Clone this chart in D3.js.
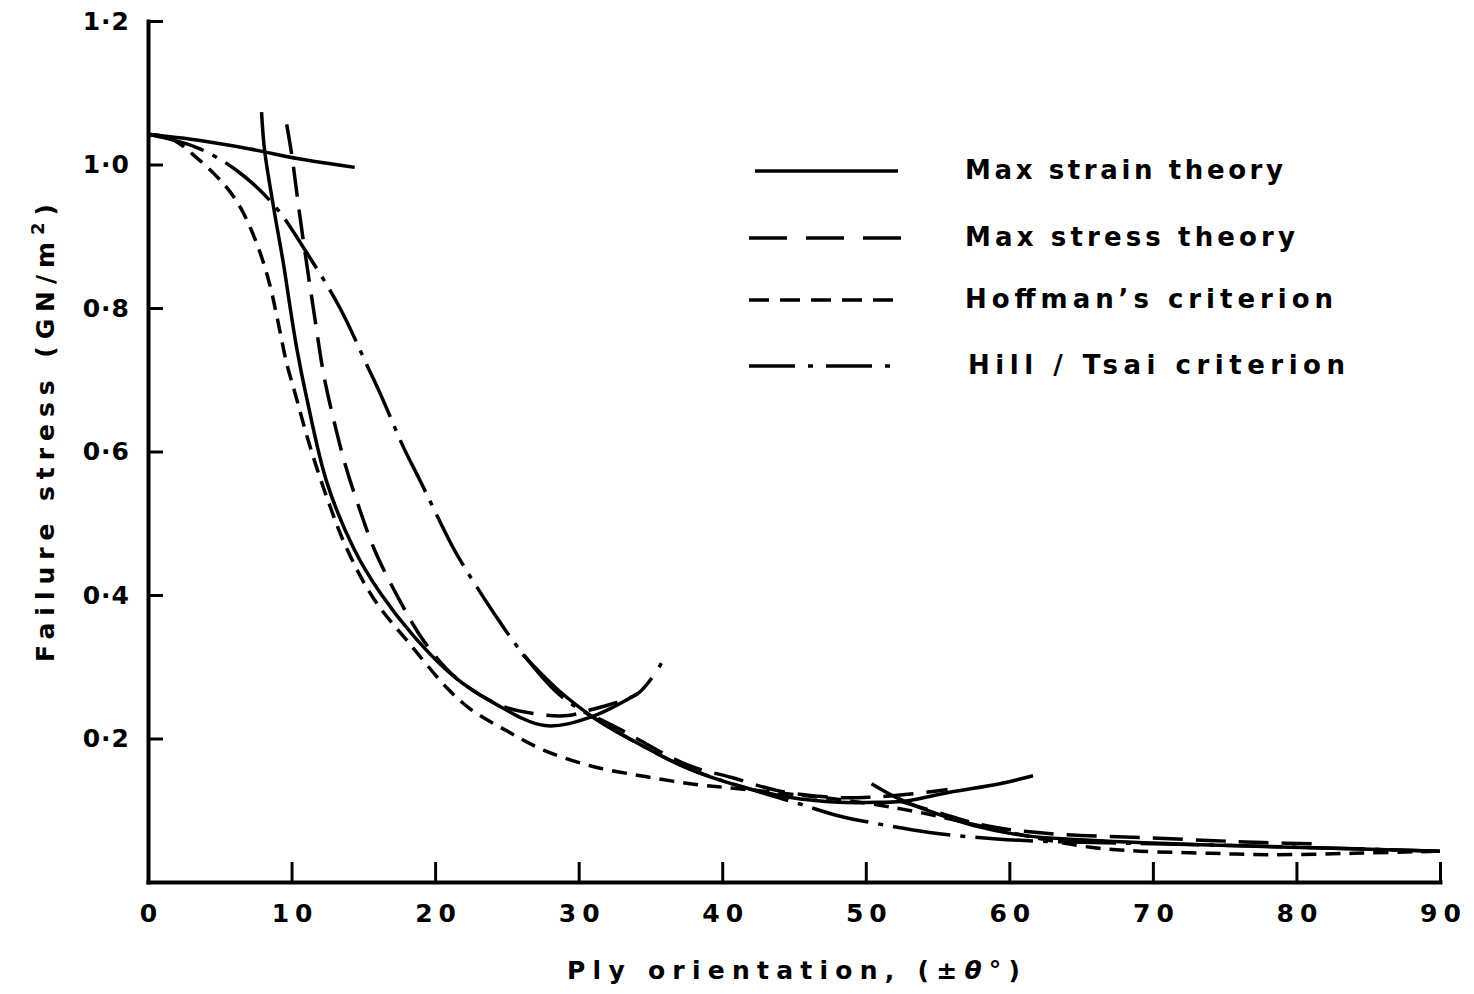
<!DOCTYPE html>
<html>
<head>
<meta charset="utf-8">
<script src="https://cdn.jsdelivr.net/npm/d3@7"></script>
<style>
  body { margin: 0; background: #fff; }
  svg { font-family: "DejaVu Sans", sans-serif; font-weight: bold; }
  .curve { fill: none; stroke: #000; stroke-width: 3.5; stroke-linejoin: round; }
  .axis .domain { stroke: #000; stroke-width: 4; stroke-linecap: square; }
  .axis .tick line { stroke: #000; stroke-width: 3; }
  .axis text { font-size: 25px; fill: #000; }
</style>
</head>
<body>
<div id="chart"></div>
<script>
const xTicks = [0, 10, 20, 30, 40, 50, 60, 70, 80, 90]
const yTicks = [0.2, 0.4, 0.6, 0.8, 1.0, 1.2]

// [ply angle (deg), failure stress (GN/m2)] - one list per failure mode
const maxStrain = [
  [[0, 1.042], [3.4, 1.034], [7, 1.022], [10.5, 1.008], [14.4, 0.996]],
  [[7.91, 1.073], [8.12, 1.02], [8.75, 0.94], [9.45, 0.86], [9.8, 0.814], [10.36, 0.744], [11.06, 0.674],
   [12.46, 0.557], [14.35, 0.464], [16.17, 0.403], [18.54, 0.342], [21.34, 0.286], [24.14, 0.249],
   [27.64, 0.218], [30.86, 0.23], [34.15, 0.263]],
  [[26.1, 0.317], [28.55, 0.268], [31.35, 0.225], [34.15, 0.193], [37.65, 0.158], [41.15, 0.134],
   [44.65, 0.118], [48.15, 0.111], [50.95, 0.111], [52.83, 0.113], [55.84, 0.125], [59.34, 0.137],
   [61.65, 0.148]],
  [[50.4, 0.137], [52.1, 0.118], [54.4, 0.099], [57.45, 0.079], [60.95, 0.065], [64.94, 0.059],
   [73.34, 0.052], [80.34, 0.048], [90, 0.043]],
]

const maxStress = [
  [[9.66, 1.056], [10.01, 1.014], [10.5, 0.94], [10.92, 0.88], [11.62, 0.786], [12.25, 0.706],
   [12.95, 0.643], [13.72, 0.583], [14.7, 0.522], [15.82, 0.461], [17.49, 0.394], [19.24, 0.335],
   [21.55, 0.283], [24.56, 0.246], [27.15, 0.234], [29.25, 0.232], [30.86, 0.24], [32.75, 0.251],
   [34.15, 0.263], [35.2, 0.287], [35.76, 0.305]],
  [[31.35, 0.228], [33.24, 0.209], [35.55, 0.183], [37.86, 0.161], [40.59, 0.146], [43.95, 0.127],
   [47.59, 0.118], [50.24, 0.118], [53.39, 0.123], [55.7, 0.129]],
  [[52.3, 0.113], [55.35, 0.095], [57.8, 0.081], [60.04, 0.073], [63.82, 0.066], [69.14, 0.062],
   [73.83, 0.058], [77.68, 0.055], [81.53, 0.053]],
]

const hoffman = [
  [[0, 1.042], [1.61, 1.036], [3.36, 1.01], [5.18, 0.975], [6.3, 0.945], [7.21, 0.908], [7.98, 0.867],
   [8.54, 0.828], [8.96, 0.79], [9.66, 0.723], [10.22, 0.683], [11.27, 0.608], [12.53, 0.532],
   [13.86, 0.464], [15.75, 0.394], [18.27, 0.331], [20.85, 0.27], [22.46, 0.241], [25.05, 0.21],
   [27.64, 0.183], [31, 0.161], [34.64, 0.147], [38.14, 0.136], [41.15, 0.13], [45, 0.122],
   [50, 0.11], [54, 0.096], [58, 0.078], [61.5, 0.063], [65.8, 0.048], [69.1, 0.043], [74, 0.04],
   [78, 0.038], [84, 0.04], [90, 0.043]],
]

const hillTsai = [
  [[0, 1.042], [3.36, 1.024], [6.16, 0.992], [8.75, 0.944], [11.06, 0.877], [13.37, 0.8], [15.26, 0.72],
   [16.17, 0.681], [17.84, 0.604], [18.89, 0.562], [21.2, 0.468], [22.25, 0.432], [24.49, 0.363],
   [25.89, 0.324], [28.55, 0.263], [31.35, 0.225], [34.15, 0.193], [37.65, 0.158], [42.34, 0.127],
   [45.35, 0.109], [48.15, 0.092], [51.15, 0.08], [54.44, 0.069], [59.13, 0.06], [63.54, 0.056],
   [73.34, 0.052], [90, 0.043]],
]

const legendLabels = ["Max strain theory", "Max stress theory", "Hoffman\u2019s criterion", "Hill / Tsai criterion"]

const series = [maxStrain, maxStress, hoffman, hillTsai]
const dashes = [null, "30,13", "15,9", "58,10,5,10"]
const legendDashes = [null, "38,19", "20,11", "46,13,5,13"]

const svg = d3.select("#chart").append("svg").attr("width", 1474).attr("height", 994)

const x = d3.scaleLinear().domain([0, 90]).range([148, 1440])
const y = d3.scaleLinear().domain([0, 1.2]).range([882, 21])

const line = d3
  .line()
  .x((d) => x(d[0]))
  .y((d) => y(d[1]))
  .curve(d3.curveCatmullRom.alpha(0.5))

series.forEach((segments, i) => {
  svg
    .append("g")
    .selectAll("path")
    .data(segments)
    .enter()
    .append("path")
    .attr("class", "curve")
    .attr("d", line)
    .attr("stroke-dasharray", dashes[i])
})

// axes
const xAxis = svg
  .append("g")
  .attr("class", "axis")
  .attr("transform", `translate(0, ${y(0)})`)
  .call(d3.axisBottom(x).tickValues(xTicks).tickSizeInner(-20).tickSizeOuter(0).tickPadding(22).tickFormat(d3.format("d")))
xAxis.attr("font-family", null).attr("font-size", null)
xAxis.selectAll("text").style("letter-spacing", "6px").attr("dx", "3px")

const yAxis = svg
  .append("g")
  .attr("class", "axis")
  .attr("transform", `translate(${x(0)}, 0)`)
  .call(
    d3.axisLeft(y).tickValues(yTicks).tickSizeInner(-15).tickSizeOuter(0).tickPadding(18)
      .tickFormat((d) => d.toFixed(1).replace(".", "\u00b7"))
  )
yAxis.attr("font-family", null).attr("font-size", null)
yAxis.selectAll("text").style("letter-spacing", "1px")

// axis titles
const xTitle = svg
  .append("text")
  .attr("x", 567)
  .attr("y", 979)
  .attr("font-size", 25)
  .attr("textLength", 453)
  .attr("lengthAdjust", "spacing")
xTitle.append("tspan").text("Ply orientation, (\u00b1")
xTitle.append("tspan").attr("font-style", "italic").text("\u03b8")
xTitle.append("tspan").text("\u00b0)")

const yTitle = svg
  .append("text")
  .attr("transform", "translate(54, 662) rotate(-90)")
  .attr("font-size", 25)
  .attr("textLength", 458)
  .attr("lengthAdjust", "spacing")
yTitle.append("tspan").text("Failure stress (GN/m")
yTitle.append("tspan").attr("dy", -10).attr("font-size", 18).text("2")
yTitle.append("tspan").attr("dy", 10).text(")")

// legend
const legendY = [171, 238, 300, 366]
const legendLen = [318, 330, 368, 377]
const legend = svg.append("g").selectAll("g").data(legendLabels).enter().append("g")

legend
  .append("line")
  .attr("class", "curve")
  .attr("x1", (d, i) => (i === 0 ? 755 : 749))
  .attr("x2", (d, i) => (i === 0 ? 898 : 903))
  .attr("y1", (d, i) => legendY[i])
  .attr("y2", (d, i) => legendY[i])
  .attr("stroke-dasharray", (d, i) => legendDashes[i])

legend
  .append("text")
  .attr("x", (d, i) => (i === 3 ? 968 : 965))
  .attr("y", (d, i) => legendY[i] + 8)
  .attr("font-size", 26)
  .attr("textLength", (d, i) => legendLen[i])
  .attr("lengthAdjust", "spacing")
  .text((d) => d)
</script>
</body>
</html>
